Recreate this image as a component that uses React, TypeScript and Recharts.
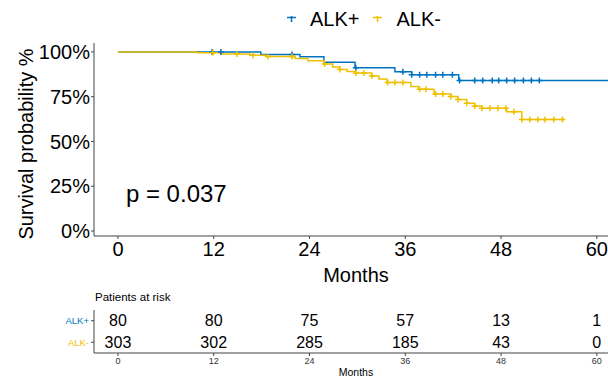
import {
  ComposedChart,
  Line,
  Scatter,
  XAxis,
  YAxis,
  ReferenceDot,
  Legend,
} from 'recharts';

// ALK+ Kaplan-Meier steps (months, survival)
const posTimes = [0, 17.9, 22.8, 25.8, 29.7, 34.7, 36.8, 42.7, 62];
const posSurv = [1, 0.986, 0.973, 0.943, 0.912, 0.89, 0.872, 0.84, 0.84];
const posCensor = [11.8, 12.9, 21.8, 29.8, 35.7, 36.8, 37.8, 38.7, 39.8, 40.7, 41.9, 42.8, 44.7, 45.7, 46.9, 47.7, 48.7, 49.7, 50.8, 51.8, 52.8];

// ALK- Kaplan-Meier steps
const negTimes = [0, 9.9, 13.0, 16.5, 18.5, 22.2, 23.8, 25.8, 26.9, 27.8, 28.7, 29.8, 31.8, 32.7, 33.7, 36.7, 37.7, 39.6, 41.7, 42.6, 43.7, 44.7, 45.6, 48.7, 50.6, 55.9];
const negSurv = [1, 0.996, 0.989, 0.982, 0.975, 0.964, 0.951, 0.933, 0.916, 0.902, 0.891, 0.883, 0.866, 0.849, 0.83, 0.807, 0.791, 0.765, 0.751, 0.735, 0.713, 0.698, 0.685, 0.666, 0.623, 0.623];
const negCensor = [11.9, 14.9, 16.9, 18.8, 21.8, 25.9, 27.8, 29.8, 30.8, 31.8, 33.8, 34.7, 35.7, 37.8, 38.6, 39.8, 40.7, 41.7, 42.6, 43.7, 44.7, 45.6, 46.6, 47.6, 48.6, 49.6, 50.6, 51.6, 52.6, 53.5, 54.6, 55.7];

// risk table
const riskMonths = [0, 12, 24, 36, 48, 60];
const posAtRisk = [80, 80, 75, 57, 13, 1];
const negAtRisk = [303, 302, 285, 185, 43, 0];

const yTicks = [0, 0.25, 0.5, 0.75, 1];
const pValue = 'p = 0.037';

const BLUE = '#0073C2';
const YELLOW = '#EFC000';
const AXIS = '#444';
const FONT = '"Liberation Sans", Arial, sans-serif';
const X_DOMAIN: [number, number] = [-3, 61.4];

const stepAt = (times: number[], surv: number[], t: number) => {
  let s = surv[0];
  times.forEach((tt, i) => {
    if (tt <= t) s = surv[i];
  });
  return s;
};

const toPoints = (times: number[], surv: number[]) => times.map((t, i) => ({ t, s: surv[i] }));
const toCensor = (cens: number[], times: number[], surv: number[]) =>
  cens.map((t) => ({ t, s: stepAt(times, surv, t) }));

const posLine = toPoints(posTimes, posSurv);
const negLine = toPoints(negTimes, negSurv);
const posMarks = toCensor(posCensor, posTimes, posSurv);
const negMarks = toCensor(negCensor, negTimes, negSurv);

const riskData = [
  ...riskMonths.map((t, i) => ({ t, row: 1.5, n: posAtRisk[i] })),
  ...riskMonths.map((t, i) => ({ t, row: 0.5, n: negAtRisk[i] })),
];

const Plus = (props: any) => {
  const { cx, cy, fill } = props;
  return (
    <path d={`M${cx - 3},${cy}H${cx + 3}M${cx},${cy - 3}V${cy + 3}`} stroke={fill} strokeWidth={1.5} fill="none" />
  );
};

const RiskNumber = (props: any) => {
  const { cx, cy, payload } = props;
  return (
    <text x={cx} y={cy} textAnchor="middle" dominantBaseline="central" fontSize={16} fill="#000">
      {payload.n}
    </text>
  );
};

const LegendKey = ({ color }: { color: string }) => (
  <svg width={9} height={8} style={{ display: 'block' }}>
    <path d="M0,1.5H9M4.5,0V6" stroke={color} strokeWidth={1.5} />
  </svg>
);

const KmLegend = () => (
  <div style={{ display: 'flex', alignItems: 'center', fontSize: 20, color: '#000', fontFamily: FONT }}>
    <LegendKey color={BLUE} />
    <span style={{ marginLeft: 14, marginRight: 14 }}>ALK+</span>
    <LegendKey color={YELLOW} />
    <span style={{ marginLeft: 14 }}>ALK-</span>
  </div>
);

export default function App() {
  return (
    <div style={{ width: 608, height: 377, position: 'relative', fontFamily: FONT, background: '#fff' }}>
      <style>{'body{margin:0;overflow:hidden}'}</style>
      <ComposedChart width={608} height={286} margin={{ top: 43, right: 0, bottom: 0, left: 0 }}>
        <XAxis
          type="number"
          dataKey="t"
          domain={X_DOMAIN}
          allowDataOverflow
          ticks={riskMonths}
          interval={0}
          tickSize={3}
          tickMargin={3}
          height={50}
          stroke={AXIS}
          tick={{ fontSize: 20, fill: '#000' }}
          label={{ value: 'Months', position: 'insideBottom', offset: 4, dx: 5, fontSize: 20, fill: '#000' }}
        />
        <YAxis
          type="number"
          dataKey="s"
          domain={[-0.028, 1.05]}
          allowDataOverflow
          ticks={yTicks}
          interval={0}
          tickFormatter={(v: number) => `${Math.round(v * 100)}%`}
          tickSize={3}
          tickMargin={1}
          width={94}
          stroke={AXIS}
          tick={{ fontSize: 20, fill: '#000' }}
        />
        <Legend
          layout="horizontal"
          verticalAlign="middle"
          align="center"
          wrapperStyle={{ top: 8, left: 287, width: 200, height: 28 }}
          content={() => <KmLegend />}
        />
        <Line data={posLine} dataKey="s" name="ALK+" type="stepAfter" stroke={BLUE} strokeWidth={1.5} dot={false} isAnimationActive={false} />
        <Scatter data={posMarks} dataKey="s" fill={BLUE} shape={Plus} isAnimationActive={false} legendType="none" />
        <Line data={negLine} dataKey="s" name="ALK-" type="stepAfter" stroke={YELLOW} strokeWidth={1.5} dot={false} isAnimationActive={false} />
        <Scatter data={negMarks} dataKey="s" fill={YELLOW} shape={Plus} isAnimationActive={false} legendType="none" />
        <ReferenceDot
          x={1}
          y={0.212}
          r={0}
          fill="none"
          stroke="none"
          label={{ value: pValue, position: 'right', offset: 0, fontSize: 24, fill: '#000' }}
        />
        <text x={26} y={144} transform="rotate(-90 26 144)" textAnchor="middle" dominantBaseline="central" fontSize={20} fill="#000">
          Survival probability %
        </text>
      </ComposedChart>
      <ComposedChart width={608} height={91} margin={{ top: 24, right: 0, bottom: 0, left: 0 }}>
        <XAxis
          type="number"
          dataKey="t"
          domain={X_DOMAIN}
          allowDataOverflow
          ticks={riskMonths}
          interval={0}
          tickSize={3}
          tickMargin={2}
          height={24}
          stroke={AXIS}
          tick={{ fontSize: 9, fill: '#333' }}
          label={{ value: 'Months', position: 'insideBottom', offset: 1, dx: 5, fontSize: 10.5, fill: '#000' }}
        />
        <YAxis
          type="number"
          dataKey="row"
          domain={[0, 2]}
          ticks={[0.5, 1.5]}
          interval={0}
          tickSize={3}
          tickMargin={2}
          width={94}
          stroke={AXIS}
          tick={(p: any) => (
            <text x={p.x} y={p.y} textAnchor="end" dominantBaseline="central" fontSize={9.5} fill={p.payload.value > 1 ? BLUE : YELLOW}>
              {p.payload.value > 1 ? 'ALK+' : 'ALK-'}
            </text>
          )}
        />
        <Scatter data={riskData} dataKey="row" shape={RiskNumber} isAnimationActive={false} />
        <text x={95} y={11} dominantBaseline="central" fontSize={11.5} fill="#000">
          Patients at risk
        </text>
      </ComposedChart>
    </div>
  );
}
